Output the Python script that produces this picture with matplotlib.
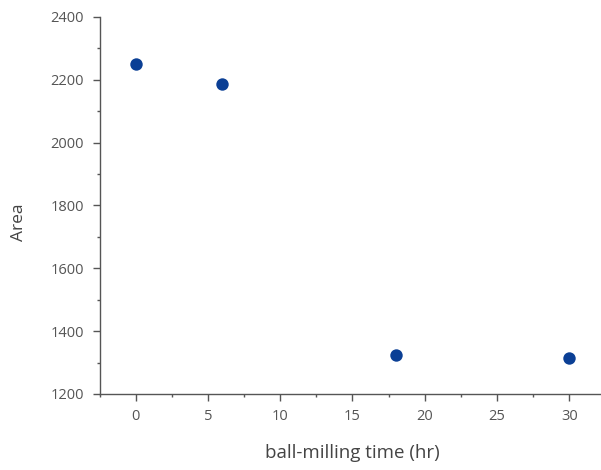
import matplotlib
matplotlib.use("Agg")
import matplotlib.pyplot as plt
from matplotlib.ticker import MultipleLocator

time_hr = [0, 6, 18, 30]
area = [2250, 2186, 1325, 1315]

plt.rcParams['font.family'] = ['Open Sans', 'DejaVu Sans']

fig = plt.figure(figsize=(6.01, 4.70), dpi=100)
ax = fig.add_axes([99.5/601, 1-394/470, 1-99.5/601, (394-17)/470])

ax.scatter(time_hr, area, s=80, color='#0b3f95', zorder=3, linewidths=0)

ax.set_xlim(-2.5, 32.2)
ax.set_ylim(1200, 2400)
ax.xaxis.set_major_locator(MultipleLocator(5))
ax.xaxis.set_minor_locator(MultipleLocator(2.5))
ax.yaxis.set_major_locator(MultipleLocator(200))
ax.yaxis.set_minor_locator(MultipleLocator(100))

for s in ['top', 'right']:
    ax.spines[s].set_visible(False)
for s in ['left', 'bottom']:
    ax.spines[s].set_color('#555555')
    ax.spines[s].set_linewidth(1.0)

ax.tick_params(axis='both', which='major', length=5, width=1, color='#555555',
               labelcolor='#555555', labelsize=10.5, pad=6)
ax.tick_params(axis='both', which='minor', length=2.5, width=1, color='#555555')

ax.set_xlabel('ball-milling time (hr)', color='#444444', fontsize=13.5)
ax.set_ylabel('Area', color='#444444', fontsize=12.5)
ax.xaxis.set_label_coords((352 - 99.5) / 501.5, (394 - 444) / 377)
ax.yaxis.set_label_coords((27 - 99.5) / 501.5, (394 - 222) / 377)

fig.savefig('out.png', dpi=100)
